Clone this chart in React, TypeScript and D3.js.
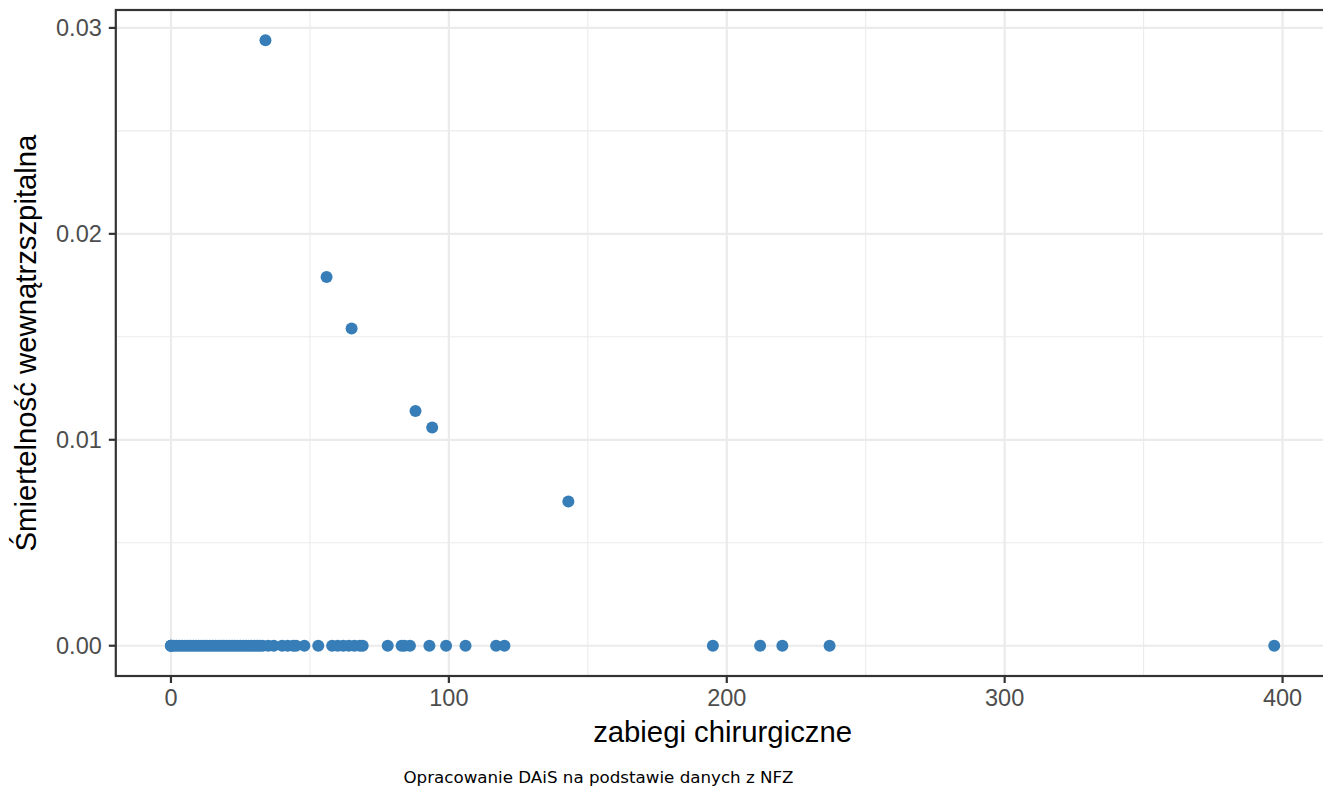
import React from 'react';
import * as d3 from 'd3';

// zabiegi chirurgiczne (x) vs smiertelnosc wewnatrzszpitalna (y)
const zabiegi = [
  0, 0, 0, 1, 2, 3, 4, 5, 6, 7, 8, 9, 10, 11, 12, 13, 14, 15, 16, 17, 18, 19, 20,
  21, 22, 23, 24, 25, 26, 27, 28, 29, 30, 31, 32, 33, 35, 37, 40, 42, 44, 45, 48,
  53, 58, 60, 62, 64, 66, 68, 69, 78, 83, 84, 86, 93, 99, 106, 117, 120, 195, 212,
  220, 237, 397,
  34, 56, 65, 88, 94, 143,
];
const smiertelnosc = [
  0, 0, 0, 0, 0, 0, 0, 0, 0, 0, 0, 0, 0, 0, 0, 0, 0, 0, 0, 0, 0, 0, 0,
  0, 0, 0, 0, 0, 0, 0, 0, 0, 0, 0, 0, 0, 0, 0, 0, 0, 0, 0, 0,
  0, 0, 0, 0, 0, 0, 0, 0, 0, 0, 0, 0, 0, 0, 0, 0, 0, 0, 0,
  0, 0, 0,
  0.0294, 0.0179, 0.0154, 0.0114, 0.0106, 0.0070,
];

const xTicks = [0, 100, 200, 300, 400];
const xMinor = [50, 150, 250, 350];
const yTicks = [0, 0.01, 0.02, 0.03];
const yMinor = [0.005, 0.015, 0.025];

const width = 1323;
const height = 787;
const panel = { left: 115.8, right: 1329.4, top: 10, bottom: 676 };

const App = () => {
  const xMax = d3.max(zabiegi)!;
  const yMax = d3.max(smiertelnosc)!;
  const x = d3.scaleLinear([-xMax * 0.05, xMax * 1.05], [panel.left, panel.right]);
  const y = d3.scaleLinear([-yMax * 0.05, yMax * 1.05], [panel.bottom, panel.top]);

  const grid = '#ebebeb';
  const axisCol = '#333333';
  const font = '"Liberation Sans", Arial, Helvetica, sans-serif';

  return (
    <div style={{ position: 'absolute', left: 0, top: 0 }}>
      <svg width={width} height={height} style={{ display: 'block' }}>
        <rect x={0} y={0} width={width} height={height} fill="white" />
        {/* minor grid */}
        <g stroke={grid} strokeWidth={1.1}>
          {xMinor.map(t => (
            <line key={'xm' + t} x1={x(t)} x2={x(t)} y1={panel.top} y2={panel.bottom} />
          ))}
          {yMinor.map(t => (
            <line key={'ym' + t} x1={panel.left} x2={panel.right} y1={y(t)} y2={y(t)} />
          ))}
        </g>
        {/* major grid */}
        <g stroke={grid} strokeWidth={2.2}>
          {xTicks.map(t => (
            <line key={'xM' + t} x1={x(t)} x2={x(t)} y1={panel.top} y2={panel.bottom} />
          ))}
          {yTicks.map(t => (
            <line key={'yM' + t} x1={panel.left} x2={panel.right} y1={y(t)} y2={y(t)} />
          ))}
        </g>
        {/* points */}
        <g fill="#377eb8">
          {zabiegi.map((d, i) => (
            <circle key={i} cx={x(d)} cy={y(smiertelnosc[i])} r={6} />
          ))}
        </g>
        {/* panel border */}
        <rect
          x={panel.left}
          y={panel.top}
          width={panel.right - panel.left}
          height={panel.bottom - panel.top}
          fill="none"
          stroke={axisCol}
          strokeWidth={2.2}
        />
        {/* y axis */}
        <g>
          {yTicks.map(t => (
            <g key={'yt' + t}>
              <line x1={panel.left - 7} x2={panel.left} y1={y(t)} y2={y(t)} stroke={axisCol} strokeWidth={2.2} />
              <text
                x={panel.left - 14}
                y={y(t)}
                dy="0.36em"
                textAnchor="end"
                fill="#4d4d4d"
                fontFamily={font}
                fontSize={23.5}
              >
                {t.toFixed(2)}
              </text>
            </g>
          ))}
        </g>
        {/* x axis */}
        <g>
          {xTicks.map(t => (
            <g key={'xt' + t}>
              <line x1={x(t)} x2={x(t)} y1={panel.bottom} y2={panel.bottom + 7} stroke={axisCol} strokeWidth={2.2} />
              <text
                x={x(t)}
                y={706}
                textAnchor="middle"
                fill="#4d4d4d"
                fontFamily={font}
                fontSize={23.5}
              >
                {t}
              </text>
            </g>
          ))}
        </g>
        <text x={(panel.left + panel.right) / 2} y={742} textAnchor="middle" fontFamily={font} fontSize={29.3}>
          zabiegi chirurgiczne
        </text>
        <text
          transform={`translate(36,${(panel.top + panel.bottom) / 2}) rotate(-90)`}
          textAnchor="middle"
          fontFamily={font}
          fontSize={29.3}
        >
          Śmiertelność wewnątrzszpitalna
        </text>
        <text x={598.5} y={783} textAnchor="middle" fontFamily='"DejaVu Sans", sans-serif' fontSize={16.7}>
          Opracowanie DAiS na podstawie danych z NFZ
        </text>
      </svg>
    </div>
  );
};

export default App;
